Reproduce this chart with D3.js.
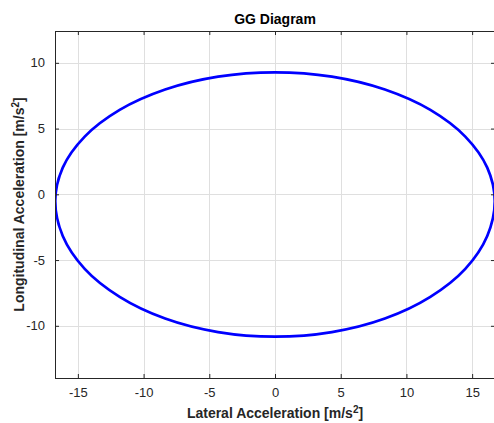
<!DOCTYPE html>
<html>
<head>
<meta charset="utf-8">
<script src="https://cdn.jsdelivr.net/npm/d3@7"></script>
<style>
  html, body { margin: 0; padding: 0; background: #fff; }
  svg { display: block; font-family: "Liberation Sans", Arial, Helvetica, sans-serif; }
</style>
</head>
<body>
<svg id="chart" width="494" height="423"></svg>
<script>
// Friction envelope: lateral (x) vs longitudinal (y) acceleration, m/s^2
const latAccel = [
  16.72, 16.15, 14.48, 11.82, 8.36, 4.33, 0.0,
  -4.33, -8.36, -11.82, -14.48, -16.15, -16.72,
  -16.15, -14.48, -11.82, -8.36, -4.33, 0.0,
  4.33, 8.36, 11.82, 14.48, 16.15
];
const lonAccel = [
  -0.5, 2.03, 4.39, 6.42, 7.97, 8.95, 9.28,
  8.95, 7.97, 6.42, 4.39, 2.03, -0.5,
  -3.17, -5.67, -7.80, -9.45, -10.48, -10.83,
  -10.48, -9.45, -7.80, -5.67, -3.17
];
const xTicks = [-15, -10, -5, 0, 5, 10, 15];
const yTicks = [-10, -5, 0, 5, 10];
const xLimits = [-16.74, 16.74];
const yLimits = [-13.97, 12.42];

const svg = d3.select("#chart");
const plot = { left: 55, right: 495, top: 31, bottom: 378 };
const ink = "#262626";

const x = d3.scaleLinear().domain(xLimits).range([plot.left, plot.right]);
const y = d3.scaleLinear().domain(yLimits).range([plot.bottom, plot.top]);

// grid
const grid = svg.append("g").attr("stroke", "#dfdfdf").attr("stroke-width", 1);
grid.selectAll(".gx").data(xTicks).join("line")
  .attr("x1", d => Math.round(x(d)) + 0.5).attr("x2", d => Math.round(x(d)) + 0.5)
  .attr("y1", plot.top).attr("y2", plot.bottom);
grid.selectAll(".gy").data(yTicks).join("line")
  .attr("y1", d => Math.round(y(d)) + 0.5).attr("y2", d => Math.round(y(d)) + 0.5)
  .attr("x1", plot.left).attr("x2", plot.right);

// envelope curve
const pts = latAccel.map((v, i) => [v, lonAccel[i]]);
svg.append("clipPath").attr("id", "plotclip").append("rect")
  .attr("x", plot.left).attr("y", plot.top)
  .attr("width", plot.right - plot.left).attr("height", plot.bottom - plot.top);
svg.append("path")
  .datum(pts)
  .attr("clip-path", "url(#plotclip)")
  .attr("fill", "none")
  .attr("stroke", "#0000ff")
  .attr("stroke-width", 2.7)
  .attr("d", d3.line().x(d => x(d[0])).y(d => y(d[1])).curve(d3.curveCatmullRomClosed.alpha(0.5)));

// axes with inward ticks on all four sides
const tl = 4;
const fmt = d => String(d);
const style = g => {
  g.select(".domain").remove();
  g.selectAll(".tick line").attr("stroke", ink);
  g.selectAll(".tick text").attr("fill", ink).attr("font-size", 13);
};
svg.append("g").attr("transform", `translate(0,${plot.bottom})`)
  .call(d3.axisBottom(x).tickValues(xTicks).tickSizeInner(-tl).tickSizeOuter(0).tickPadding(10).tickFormat(fmt))
  .call(style);
svg.append("g").attr("transform", `translate(0,${plot.top})`)
  .call(d3.axisTop(x).tickValues(xTicks).tickSizeInner(-tl).tickSizeOuter(0).tickFormat(""))
  .call(style);
svg.append("g").attr("transform", `translate(${plot.left},0)`)
  .call(d3.axisLeft(y).tickValues(yTicks).tickSizeInner(-tl).tickSizeOuter(0).tickPadding(10).tickFormat(fmt))
  .call(style);
svg.append("g").attr("transform", `translate(${plot.right},0)`)
  .call(d3.axisRight(y).tickValues(yTicks).tickSizeInner(-tl).tickSizeOuter(0).tickFormat(""))
  .call(style);

svg.append("rect")
  .attr("x", plot.left + 0.5).attr("y", plot.top + 0.5)
  .attr("width", plot.right - plot.left).attr("height", plot.bottom - plot.top)
  .attr("fill", "none").attr("stroke", ink).attr("stroke-width", 1);

// title and labels
svg.append("text")
  .attr("x", (plot.left + plot.right) / 2).attr("y", 24)
  .attr("text-anchor", "middle").attr("font-weight", "bold").attr("font-size", 14)
  .attr("fill", "#000").text("GG Diagram");

const xl = svg.append("text")
  .attr("x", (plot.left + plot.right) / 2).attr("y", 418)
  .attr("text-anchor", "middle").attr("font-weight", "bold").attr("font-size", 14)
  .attr("fill", ink);
xl.append("tspan").text("Lateral Acceleration [m/s");
xl.append("tspan").attr("dy", -5).attr("font-size", 10).text("2");
xl.append("tspan").attr("dy", 5).text("]");

const yl = svg.append("text")
  .attr("transform", `translate(24,${(plot.top + plot.bottom) / 2}) rotate(-90)`)
  .attr("text-anchor", "middle").attr("font-weight", "bold").attr("font-size", 14)
  .attr("fill", ink);
yl.append("tspan").text("Longitudinal Acceleration [m/s");
yl.append("tspan").attr("dy", -5).attr("font-size", 10).text("2");
yl.append("tspan").attr("dy", 5).text("]");
</script>
</body>
</html>
